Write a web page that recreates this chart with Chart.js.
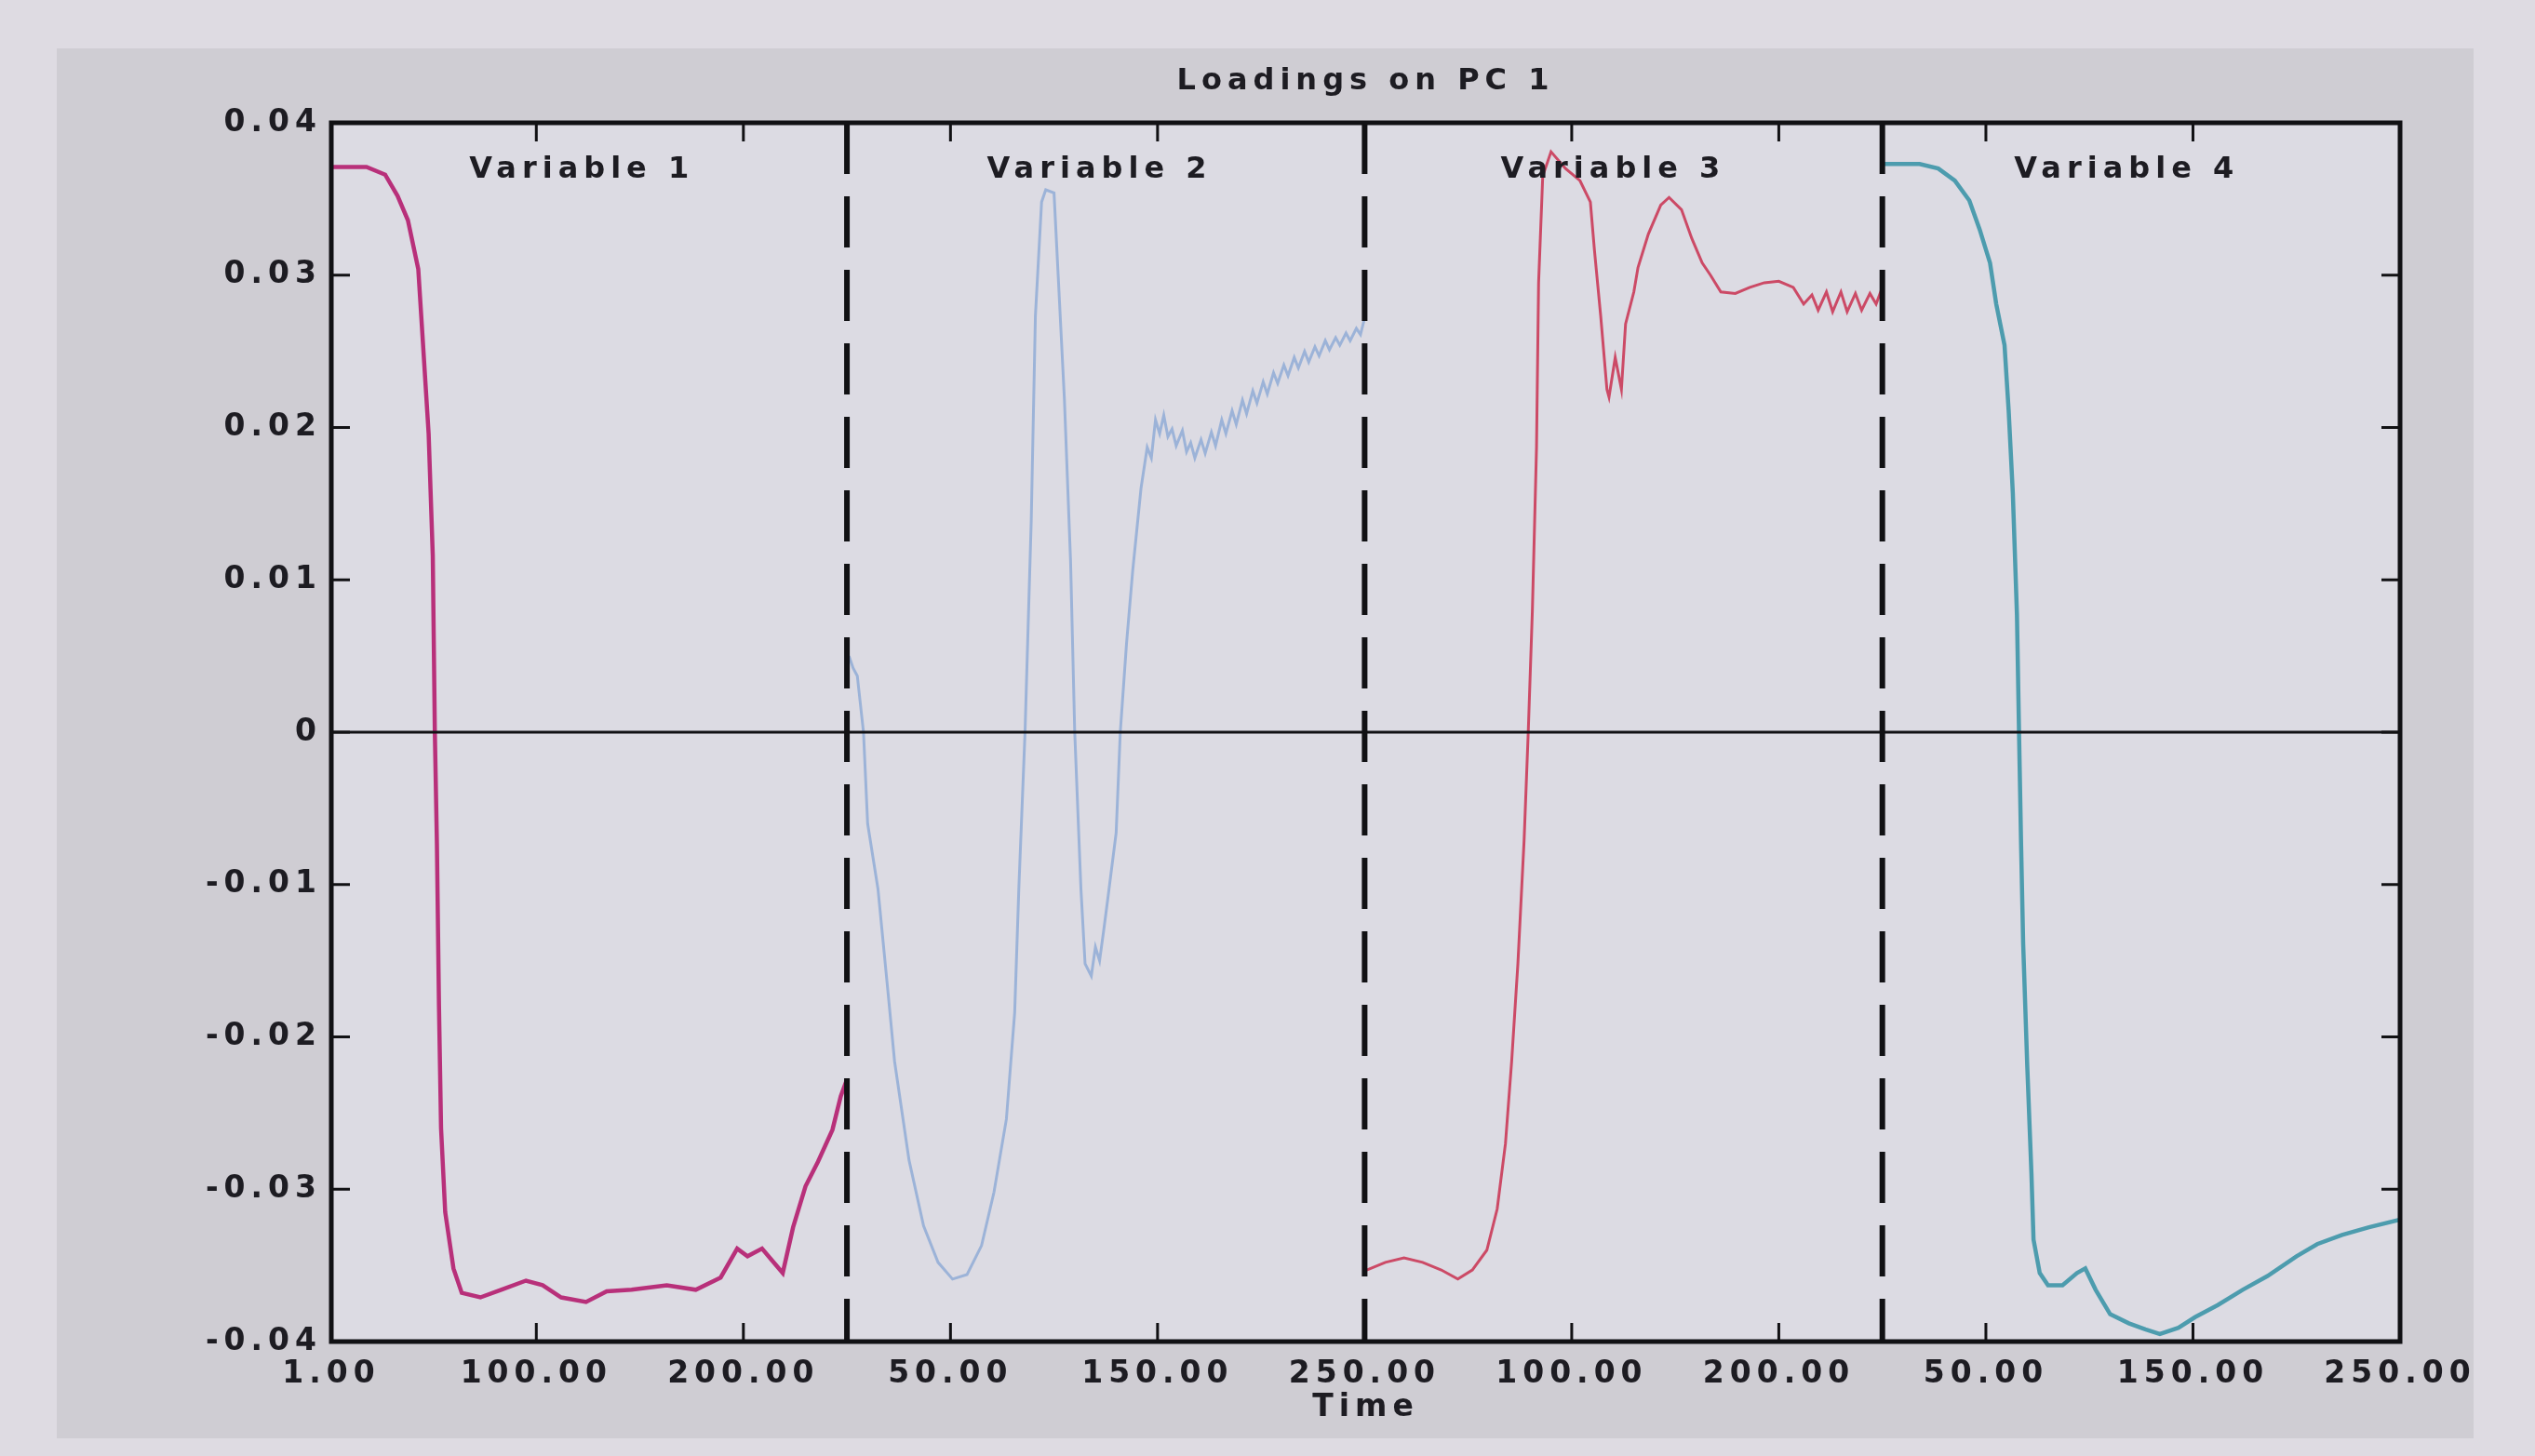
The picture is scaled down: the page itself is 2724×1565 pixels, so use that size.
<!DOCTYPE html>
<html>
<head>
<meta charset="utf-8">
<title>Loadings on PC 1</title>
<script src="https://cdn.jsdelivr.net/npm/chart.js@4.4.0/dist/chart.umd.min.js"></script>
<style>
  html, body { margin: 0; padding: 0; background: #dedbe2; overflow: hidden; }
  #frame { position: absolute; left: 61px; top: 52px; width: 2597px; height: 1494px; background: #cfcdd3; }
  #wrap { position: absolute; left: 0; top: 0; width: 2724px; height: 1565px; }
</style>
</head>
<body>
<div id="frame"></div>
<div id="wrap"><canvas id="pcChart"></canvas></div>
<script>
// Joined time axis: four variables of 250 samples each
const xTickValues = [1, 100, 200, 300, 400, 500, 600, 700, 800, 900, 1000];
const xTickLabels = ['1.00', '100.00', '200.00', '50.00', '150.00', '250.00', '100.00', '200.00', '50.00', '150.00', '250.00'];
const yTickValues = [-0.04, -0.03, -0.02, -0.01, 0, 0.01, 0.02, 0.03, 0.04];
const yTickLabels = ['-0.04', '-0.03', '-0.02', '-0.01', '0', '0.01', '0.02', '0.03', '0.04'];

const separators = [250, 500, 750];
const variableNames = ['Variable 1', 'Variable 2', 'Variable 3', 'Variable 4'];
const variableLabelX = [122, 372, 620, 868];
const variableLabelY = 0.0369;

// Variable 1
const var1Time = [1, 18, 27, 33, 38, 43, 45, 48, 50, 51, 52, 53, 54, 56, 60, 64, 73, 83, 95, 103, 112, 124, 134, 146, 163, 177, 189, 197, 202, 209, 214, 219, 224, 230, 236, 243, 247, 250];
const var1Load = [0.0371, 0.0371, 0.0366, 0.0352, 0.0336, 0.0304, 0.0261, 0.0196, 0.0116, 0.0000, -0.0073, -0.0180, -0.0260, -0.0315, -0.0352, -0.0368, -0.0371, -0.0366, -0.0360, -0.0363, -0.0371, -0.0374, -0.0367, -0.0366, -0.0363, -0.0366, -0.0358, -0.0339, -0.0344, -0.0339, -0.0347, -0.0355, -0.0325, -0.0298, -0.0282, -0.0261, -0.0239, -0.0228];

// Variable 2
const var2Time = [251, 253, 255, 258, 260, 265, 270, 273, 280, 287, 294, 301, 308, 315, 321, 327, 331, 333, 336, 339, 341, 344, 346, 350, 352, 355, 358, 360, 363, 365, 368, 370, 372, 374, 376, 380, 382, 385, 388, 392, 395, 397, 399, 401, 403, 405, 407, 409, 412, 414, 416, 418, 421, 423, 426, 428, 431, 433, 436, 438, 441, 443, 446, 448, 451, 453, 456, 458, 461, 463, 466, 468, 471, 473, 476, 478, 481, 483, 486, 488, 491, 493, 496, 498, 500];
const var2Load = [0.0050, 0.0042, 0.0037, 0.0000, -0.0060, -0.0103, -0.0173, -0.0216, -0.0281, -0.0324, -0.0348, -0.0359, -0.0356, -0.0337, -0.0302, -0.0254, -0.0184, -0.0103, 0.0000, 0.0139, 0.0273, 0.0348, 0.0356, 0.0354, 0.0300, 0.0219, 0.0112, 0.0000, -0.0103, -0.0152, -0.0160, -0.0141, -0.0150, -0.0130, -0.0109, -0.0066, 0.0000, 0.0058, 0.0106, 0.0160, 0.0187, 0.0180, 0.0205, 0.0196, 0.0208, 0.0194, 0.0199, 0.0188, 0.0198, 0.0184, 0.0190, 0.0180, 0.0192, 0.0183, 0.0197, 0.0188, 0.0205, 0.0196, 0.0211, 0.0202, 0.0218, 0.0209, 0.0224, 0.0216, 0.0230, 0.0222, 0.0236, 0.0229, 0.0241, 0.0234, 0.0246, 0.0239, 0.0250, 0.0243, 0.0253, 0.0247, 0.0257, 0.0251, 0.0259, 0.0254, 0.0262, 0.0257, 0.0265, 0.0261, 0.0272];

// Variable 3
const var3Time = [501, 510, 519, 528, 537, 545, 552, 559, 564, 568, 571, 574, 577, 579, 581, 583, 584, 586, 590, 597, 604, 609, 611, 614, 617, 618, 621, 624, 626, 630, 632, 637, 643, 647, 653, 658, 663, 667, 672, 679, 686, 693, 700, 707, 712, 716, 719, 723, 726, 730, 733, 737, 740, 744, 747, 750];
const var3Load = [-0.0353, -0.0348, -0.0345, -0.0348, -0.0353, -0.0359, -0.0353, -0.0340, -0.0313, -0.0270, -0.0216, -0.0152, -0.0071, 0.0000, 0.0080, 0.0187, 0.0295, 0.0365, 0.0381, 0.0370, 0.0362, 0.0348, 0.0316, 0.0273, 0.0225, 0.0220, 0.0246, 0.0225, 0.0268, 0.0289, 0.0305, 0.0327, 0.0346, 0.0351, 0.0343, 0.0324, 0.0308, 0.0300, 0.0289, 0.0288, 0.0292, 0.0295, 0.0296, 0.0292, 0.0281, 0.0287, 0.0277, 0.0289, 0.0276, 0.0289, 0.0276, 0.0288, 0.0277, 0.0288, 0.0281, 0.0292];

// Variable 4
const var4Time = [751, 768, 777, 785, 792, 797, 802, 805, 809, 811, 813, 815, 816, 817, 818, 820, 822, 823, 826, 830, 837, 844, 848, 853, 860, 869, 877, 884, 893, 901, 912, 924, 936, 950, 960, 972, 985, 1000];
const var4Load = [0.0373, 0.0373, 0.0370, 0.0362, 0.0349, 0.0330, 0.0308, 0.0281, 0.0254, 0.0211, 0.0157, 0.0077, 0.0000, -0.0074, -0.0139, -0.0220, -0.0290, -0.0333, -0.0355, -0.0363, -0.0363, -0.0355, -0.0352, -0.0366, -0.0382, -0.0388, -0.0392, -0.0395, -0.0391, -0.0384, -0.0376, -0.0366, -0.0357, -0.0344, -0.0336, -0.0330, -0.0325, -0.0320];

const textColor = '#1d1c22';
const tickFont = { family: 'DejaVu Sans', size: 33, weight: 'bold' };
const titleFont = { family: 'DejaVu Sans', size: 32, weight: 'bold' };

function toPoints(times, loads) {
    return times.map((t, i) => ({ x: t, y: loads[i] }));
}

// Wide, spaced lettering like the scanned figure
const spacingPlugin = {
    id: 'letterSpacing',
    beforeUpdate(chart) { chart.ctx.letterSpacing = '6px'; },
    beforeDraw(chart) { chart.ctx.letterSpacing = '6px'; }
};

// Plot box, inward ticks, zero line, dashed separators, variable labels
const framePlugin = {
    id: 'matlabFrame',
    beforeDraw(chart) {
        const { ctx, chartArea: a } = chart;
        ctx.save();
        ctx.fillStyle = '#dcdbe3';
        ctx.fillRect(a.left, a.top, a.right - a.left, a.bottom - a.top);
        ctx.restore();
    },
    afterDatasetsDraw(chart) {
        const { ctx, chartArea: a, scales } = chart;
        const xs = scales.x, ys = scales.y;
        ctx.save();
        ctx.strokeStyle = '#111114';

        // zero line
        const y0 = ys.getPixelForValue(0);
        ctx.lineWidth = 3;
        ctx.beginPath();
        ctx.moveTo(a.left, y0);
        ctx.lineTo(a.right, y0);
        ctx.stroke();

        // dashed separators between variables
        ctx.lineWidth = 6;
        ctx.setLineDash([55, 24]);
        separators.forEach(v => {
            const px = xs.getPixelForValue(v);
            ctx.beginPath();
            ctx.moveTo(px, a.top);
            ctx.lineTo(px, a.bottom);
            ctx.stroke();
        });
        ctx.setLineDash([]);

        // ticks pointing inward on all four sides
        const tick = 20;
        ctx.lineWidth = 3;
        ctx.beginPath();
        xTickValues.forEach(v => {
            const px = xs.getPixelForValue(v);
            ctx.moveTo(px, a.bottom);
            ctx.lineTo(px, a.bottom - tick);
            ctx.moveTo(px, a.top);
            ctx.lineTo(px, a.top + tick);
        });
        yTickValues.forEach(v => {
            const py = ys.getPixelForValue(v);
            ctx.moveTo(a.left, py);
            ctx.lineTo(a.left + tick, py);
            ctx.moveTo(a.right, py);
            ctx.lineTo(a.right - tick, py);
        });
        ctx.stroke();

        // box
        ctx.lineWidth = 5;
        ctx.strokeRect(a.left, a.top, a.right - a.left, a.bottom - a.top);

        // variable names
        ctx.fillStyle = textColor;
        ctx.font = 'bold 32px "DejaVu Sans"';
        ctx.letterSpacing = '6px';
        ctx.textAlign = 'center';
        ctx.textBaseline = 'middle';
        variableNames.forEach((name, i) => {
            ctx.fillText(name, xs.getPixelForValue(variableLabelX[i]), ys.getPixelForValue(variableLabelY));
        });
        ctx.restore();
    }
};

document.addEventListener('DOMContentLoaded', () => {
    Chart.defaults.font.family = 'DejaVu Sans';
    const ctx = document.getElementById('pcChart').getContext('2d');
    new Chart(ctx, {
        type: 'line',
        data: {
            datasets: [
                { label: 'Variable 1', data: toPoints(var1Time, var1Load), borderColor: '#b8307a', borderWidth: 4.5 },
                { label: 'Variable 2', data: toPoints(var2Time, var2Load), borderColor: '#9cb3d8', borderWidth: 3 },
                { label: 'Variable 3', data: toPoints(var3Time, var3Load), borderColor: '#cc4a66', borderWidth: 3 },
                { label: 'Variable 4', data: toPoints(var4Time, var4Load), borderColor: '#4d9cae', borderWidth: 4.5 }
            ]
        },
        options: {
            responsive: true,
            maintainAspectRatio: false,
            animation: false,
            elements: { point: { radius: 0 }, line: { tension: 0, fill: false } },
            layout: { padding: { left: 0, right: 145, top: 0, bottom: 0 } },
            plugins: {
                legend: { display: false },
                tooltip: { enabled: false },
                title: {
                    display: true,
                    fullSize: false,
                    text: 'Loadings on PC 1',
                    color: textColor,
                    font: titleFont,
                    padding: { top: 68, bottom: 25.6 }
                }
            },
            scales: {
                x: {
                    type: 'linear',
                    min: 1,
                    max: 1000,
                    afterBuildTicks: s => { s.ticks = xTickValues.map(v => ({ value: v })); },
                    afterFit: s => { s.height = 123; },
                    grid: { display: false, drawTicks: false },
                    border: { display: false },
                    ticks: {
                        autoSkip: false,
                        maxRotation: 0,
                        padding: 16,
                        color: textColor,
                        font: tickFont,
                        callback: (v, i) => xTickLabels[i]
                    },
                    title: {
                        display: true,
                        text: 'Time',
                        color: textColor,
                        font: tickFont,
                        padding: { top: 0, bottom: 32 }
                    }
                },
                y: {
                    min: -0.04,
                    max: 0.04,
                    afterBuildTicks: s => { s.ticks = yTickValues.map(v => ({ value: v })); },
                    afterFit: s => { s.width = 356; },
                    grid: { display: false, drawTicks: false },
                    border: { display: false },
                    ticks: {
                        autoSkip: false,
                        padding: 10,
                        color: textColor,
                        font: tickFont,
                        callback: (v, i) => yTickLabels[i]
                    }
                }
            }
        },
        plugins: [spacingPlugin, framePlugin]
    });
});
</script>
</body>
</html>
